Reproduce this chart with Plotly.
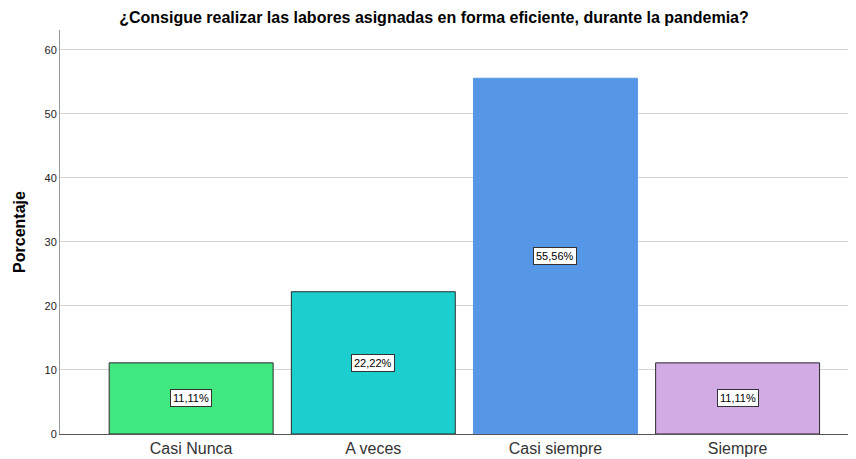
import plotly.graph_objects as go

categories = ["Casi Nunca", "A veces", "Casi siempre", "Siempre"]
values = [11.11, 22.22, 55.56, 11.11]
labels = ["11,11%", "22,22%", "55,56%", "11,11%"]
colors = ["#41E880", "#1BCFCF", "#5597E6", "#D2AAE4"]
edge_colors = ["#2b2b2b", "#2b2b2b", "#5597E6", "#2b2b2b"]
y_ticks = [0, 10, 20, 30, 40, 50, 60]

fig = go.Figure()
fig.add_trace(go.Bar(
    x=list(range(len(categories))),
    y=values,
    marker=dict(color=colors, line=dict(color=edge_colors, width=1)),
    width=0.9,
    hoverinfo="skip",
))

for i, (v, t) in enumerate(zip(values, labels)):
    fig.add_annotation(
        x=i, y=v / 2, text=t, showarrow=False,
        font=dict(family="Liberation Sans, Arial", size=11, color="#000"),
        bgcolor="white", bordercolor="#333", borderwidth=1, borderpad=2,
    )

W, H = 848, 451
fig.update_layout(
    width=W, height=H,
    margin=dict(l=52, r=0, t=22, b=25),
    paper_bgcolor="white", plot_bgcolor="white",
    showlegend=False,
    title=dict(
        text="<b>¿Consigue realizar las labores asignadas en forma eficiente, durante la pandemia?</b>",
        x=426 / W, xanchor="center", y=1 - 9 / H, yanchor="middle",
        font=dict(family="Liberation Sans, Arial", size=16, color="#000"),
    ),
    font=dict(family="Liberation Sans, Arial"),
)
fig.update_xaxes(
    range=[-0.72, 3.65],
    tickmode="array", tickvals=list(range(len(categories))), ticktext=categories,
    tickfont=dict(size=16, color="#333"),
    showgrid=False, zeroline=False,
    showline=True, linecolor="#555", linewidth=1,
    ticks="", ticklen=0,
)
fig.update_yaxes(
    range=[0, 63.1],
    tickmode="array", tickvals=y_ticks,
    tickfont=dict(size=11, color="#222"),
    showgrid=True, gridcolor="#d4d4d4", gridwidth=1,
    zeroline=False,
    showline=True, linecolor="#999", linewidth=1,
    ticks="", ticklen=0,
    title=dict(text="<b>Porcentaje</b>", font=dict(size=16, color="#000"), standoff=14),
)

fig.write_html("out.html")
